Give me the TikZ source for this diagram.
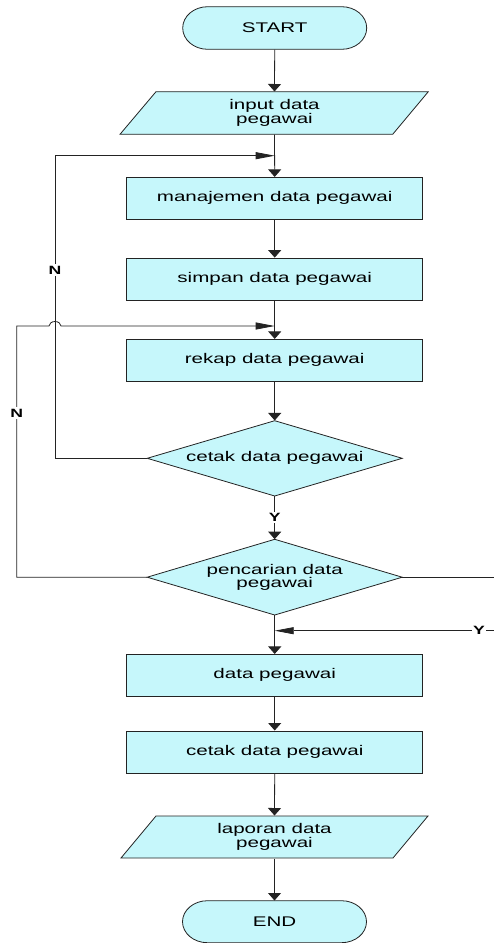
\documentclass[tikz,border=0pt]{standalone}
\usepackage{fontspec}
\setmainfont{Liberation Sans}[FakeStretch=1.47]
\usetikzlibrary{arrows.meta,calc}
\definecolor{boxfill}{RGB}{198,247,251}
\definecolor{linec}{RGB}{35,35,35}
\begin{document}
\begin{tikzpicture}[x=1pt,y=-1pt,
  every node/.style={font=\fontsize{14}{13.5}\selectfont},
  proc/.style={draw=linec, fill=boxfill, line width=0.8pt, minimum width=296pt, minimum height=42pt, inner sep=0pt, align=center},
  decbox/.style={minimum width=255pt, minimum height=75.5pt, inner sep=0pt, align=center},
  ghost/.style={minimum width=237pt, minimum height=42.6pt, inner sep=0pt, align=center},
  termtext/.style={minimum width=184pt, minimum height=42.6pt, inner sep=0pt},
  shapeline/.style={draw=linec, fill=boxfill, line width=0.8pt},
  flow/.style={draw=linec, line width=0.8pt},
  va/.style={flow, -{Triangle[length=7.5pt,width=13pt]}},
  ha/.style={flow, -{Triangle[length=19pt,width=7pt]}},
  lbl/.style={fill=white, inner sep=1.5pt, font=\fontsize{12}{12}\selectfont\bfseries}
]
\useasboundingbox (0,0) rectangle (494,943);

% START terminator
\draw[shapeline] (207.7,6.7) -- (341.7,6.7) arc[start angle=90, end angle=-90, x radius=25pt, y radius=21.3pt] -- (207.7,49.3) arc[start angle=270, end angle=90, x radius=25pt, y radius=21.3pt] -- cycle;
\node[termtext] (start) at (274.7,28) {START};

% input parallelogram
\draw[shapeline] (156,91.7) -- (428.3,91.7) -- (392.7,134.3) -- (120,134.3) -- cycle;
\node[ghost] (inp) at (274.5,113) {input data\\pegawai};

\node[proc] (man) at (274.7,198.3) {manajemen data pegawai};
\node[proc] (sim) at (274.7,279) {simpan data pegawai};
\node[proc] (rek) at (274.7,360.3) {rekap data pegawai};

% decision 1
\draw[shapeline] (274.7,420.7) -- (402.2,458.3) -- (274.7,496) -- (147.2,458.3) -- cycle;
\node[decbox, minimum height=75.3pt] (d1) at (274.7,458.3) {cetak data pegawai};
% decision 2
\draw[shapeline] (274.7,539.3) -- (402.2,577.2) -- (274.7,615) -- (147.2,577.2) -- cycle;
\node[decbox, minimum height=75.7pt] (d2) at (274.7,577.2) {pencarian data\\pegawai};

\node[proc, minimum height=41.7pt] (data) at (274.7,675.2) {data pegawai};
\node[proc] (ctk) at (274.7,751.9) {cetak data pegawai};

% laporan parallelogram
\draw[shapeline] (156,816) -- (428,816) -- (393,858) -- (121,858) -- cycle;
\node[ghost] (lap) at (274.5,837) {laporan data\\pegawai};

% END terminator
\draw[shapeline] (207.5,900.7) -- (341.5,900.7) arc[start angle=90, end angle=-90, x radius=25pt, y radius=21pt] -- (207.5,942.7) arc[start angle=270, end angle=90, x radius=25pt, y radius=21pt] -- cycle;
\node[termtext, minimum height=42pt] (end) at (274.5,921.7) {END};

% main flow
\draw[va] (start.south) -- (inp.north);
\draw[va] (inp.south) -- (man.north);
\draw[va] (man.south) -- (sim.north);
\draw[va] (sim.south) -- (rek.north);
\draw[va] (rek.south) -- (d1.north);
\draw[va] (d1.south) -- node[lbl]{Y} (d2.north);
\draw[va] (d2.south) -- (data.north);
\draw[va] (data.south) -- (ctk.north);
\draw[va] (ctk.south) -- (lap.north);
\draw[va] (lap.south) -- (end.north);

% loop 1 (N from cetak)
\coordinate (c1a) at (55,458.3);
\coordinate (c1b) at (55,155.7);
\coordinate (j1) at (274.7,155.7);
\draw[ha] (d1.west) -- (c1a) -- node[lbl,pos=0.622]{N} (c1b) -- (j1);

% loop 2 (N from pencarian)
\coordinate (c2a) at (16.7,577.2);
\coordinate (c2b) at (16.7,326);
\coordinate (h1) at (49,326);
\coordinate (j2) at (274.7,326);
\draw[ha] (d2.west) -- (c2a) -- node[lbl,pos=0.654]{N} (c2b) -- (h1) arc[start angle=180, end angle=0, x radius=6pt, y radius=4.5pt] -- (j2);

% right side (Y)
\coordinate (r1) at (494,577.2);
\coordinate (r2) at (494,630.7);
\coordinate (j3) at (274.7,630.7);
\draw[flow] (d2.east) -- (r1);
\draw[ha] (r2) -- node[lbl,pos=0.068]{Y} (j3);
\end{tikzpicture}
\end{document}
